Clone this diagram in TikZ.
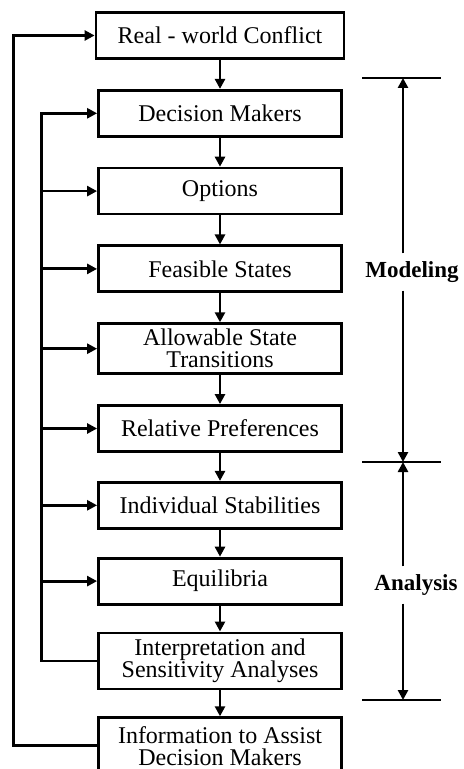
\documentclass[tikz,border=0pt]{standalone}
\usepackage{fontspec}
\setmainfont{Liberation Serif}
\usetikzlibrary{arrows.meta,positioning}

\begin{document}
\begin{tikzpicture}[x=0.5pt,y=-0.5pt,line width=1.4pt,>={Triangle[length=5pt,width=5pt]},node distance=14.5pt,
    font=\fontsize{12}{11}\selectfont,
    stage/.style={draw,minimum width=121.5pt,minimum height=23pt,inner ysep=1.5pt,align=center},
    phase/.style={font=\fontsize{11.5}{10}\selectfont\bfseries}]
    \useasboundingbox (0,0) rectangle (464,769);
    \node[stage,minimum width=124pt] (real) at (220,35.5) {Real - world Conflict};
    \node[stage,below=of real] (dm) {Decision Makers};
    \node[stage,below=of dm] (opt) {Options};
    \node[stage,below=of opt] (feas) {Feasible States};
    \node[stage,below=of feas,minimum height=25pt] (allow) {Allowable State\\Transitions};
    \node[stage,below=of allow] (rel) {Relative Preferences};
    \node[stage,below=14pt of rel] (indiv) {Individual Stabilities};
    \node[stage,below=13.5pt of indiv] (equil) {Equilibria};
    \node[stage,below=13pt of equil,minimum height=28pt] (interp) {Interpretation and\\Sensitivity Analyses};
    \node[stage,below=13pt of interp,minimum height=28pt] (info) {Information to Assist\\Decision Makers};
    \foreach \a/\b in {real/dm,dm/opt,opt/feas,feas/allow,allow/rel,rel/indiv,indiv/equil,equil/interp,interp/info}{\draw[->] (\a)--(\b);}
    % feedback loops
    \draw[->] (info.west) -- ++(-84,0) |- (real.west);
    \draw[->] (interp.west) -- ++(-56,0) coordinate (fb) |- (dm.west);
    \foreach \n in {opt,feas,allow,rel,indiv,equil}{\draw[->] (fb |- \n.west) -- (\n.west);}
    % phases
    \coordinate (mtop) at (403,78);
    \coordinate (mmid) at (403,462);
    \coordinate (mbot) at (403,700);
    \foreach \y in {78,462,700}{\draw (362,\y) -- (441,\y);}
    \node[phase] (model) at (412,272) {Modeling};
    \node[phase] (ana) at (416,585) {Analysis};
    \draw[->] (mtop |- model.north) -- (mtop);
    \draw[->] (mtop |- model.south) -- (mmid);
    \draw[->] (mtop |- ana.north) -- (mmid);
    \draw[->] (mtop |- ana.south) -- (mbot);
\end{tikzpicture}
\end{document}
